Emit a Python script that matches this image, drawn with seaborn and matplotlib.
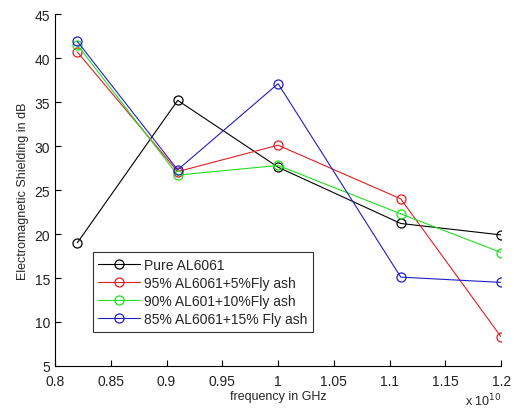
import numpy as np
import pandas as pd
import seaborn as sns
import matplotlib.pyplot as plt
from matplotlib.ticker import FuncFormatter

# frequency points (Hz)
freq = [0.82e10, 0.91e10, 1.0e10, 1.11e10, 1.2e10]

# shielding values in dB
pure = [19.0, 35.2, 27.6, 21.2, 19.9]
fly5 = [40.7, 27.1, 30.1, 24.0, 8.3]
fly10 = [41.5, 26.7, 27.8, 22.3, 17.9]
fly15 = [41.9, 27.3, 37.1, 15.1, 14.5]

labels = ['Pure AL6061', '95% AL6061+5%Fly ash', '90% AL601+10%Fly ash', '85% AL6061+15% Fly ash']
colors = ['black', '#e02020', '#20e020', '#2020c0']

sns.set_style('white')
plt.rcParams['font.family'] = ['Liberation Sans', 'DejaVu Sans']

fig = plt.figure(figsize=(5.14, 4.10), dpi=100)
ax = fig.add_axes([0.107, 0.105, 0.868, 0.858])

for vals, lab, col in zip([pure, fly5, fly10, fly15], labels, colors):
    sns.lineplot(x=freq, y=vals, ax=ax, color=col, label=lab, marker='o',
                 markersize=6.5, markerfacecolor='none', markeredgecolor=col,
                 markeredgewidth=0.9, linewidth=0.8)

ax.set_xlim(0.8e10, 1.2e10)
ax.set_ylim(5, 45)
ax.set_xticks(np.arange(0.8, 1.2001, 0.05) * 1e10)
ax.set_yticks(np.arange(5, 46, 5))
ax.xaxis.set_major_formatter(FuncFormatter(lambda v, p: '%g' % round(v / 1e10, 2)))
ax.tick_params(bottom=True, left=True, direction='in', length=4, width=0.8,
               labelsize=10, colors='black', labelcolor='#222222')
ax.tick_params(axis='x', pad=6)

for s in ['top', 'right']:
    ax.spines[s].set_visible(False)
for s in ['left', 'bottom']:
    ax.spines[s].set_color('black')
    ax.spines[s].set_linewidth(0.8)

ax.set_xlabel('frequency in GHz', fontsize=9, labelpad=1)
ax.set_ylabel('Electromagnetic Shielding in dB', fontsize=9, labelpad=4)
fig.text(0.905, 0.008, r'x 10$^{10}$', fontsize=9)

leg = ax.legend(loc='lower left', bbox_to_anchor=(0.085, 0.097), borderaxespad=0,
                fancybox=False, edgecolor='#333333', framealpha=1, fontsize=10,
                handlelength=3.0, labelspacing=0.3, borderpad=0.4, handletextpad=0.3)
leg.get_frame().set_linewidth(0.8)

fig.savefig('out.png', dpi=100)
